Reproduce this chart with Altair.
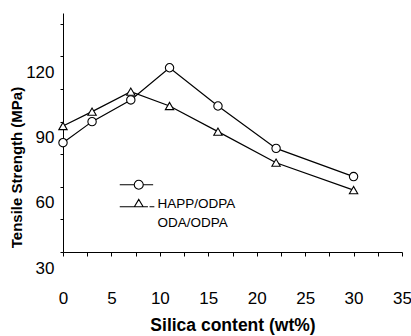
import altair as alt
import pandas as pd

# ---- data ----
silica = [0, 3, 7, 11, 16, 22, 30]
happ_odpa = [80.3, 90.0, 100.0, 114.8, 97.2, 77.7, 64.7]
oda_odpa = [88.0, 94.6, 103.8, 97.2, 85.4, 71.1, 58.5]
series_names = ["HAPP/ODPA", "ODA/ODPA"]
x_tick_values = [0, 2.5, 5, 7.5, 10, 12.5, 15, 17.5, 20, 22.5, 25, 27.5, 30, 32.5, 35]
y_tick_values = [30, 45, 60, 75, 90, 105, 120, 135]

rows = []
for name, vals in zip(series_names, [happ_odpa, oda_odpa]):
    for x, v in zip(silica, vals):
        rows.append({"silica": x, "strength": v, "series": name})
df = pd.DataFrame(rows)

FONT = "Liberation Sans"

x_enc = alt.X(
    "silica:Q",
    scale=alt.Scale(domain=[0, 35], nice=False, zero=False),
    axis=alt.Axis(
        values=x_tick_values,
        labelExpr="datum.value % 5 == 0 ? datum.label : ''",
        title="Silica content (wt%)",
        titleFont=FONT, titleFontSize=17.5, titleFontWeight="bold", titleColor="black",
        titlePadding=10,
        labelFont=FONT, labelFontSize=17, labelColor="black",
        labelPadding=34, tickSize=4, tickColor="black", domainColor="black",
        grid=False, labelFlush=False, labelOverlap=False,
    ),
)
y_enc = alt.Y(
    "strength:Q",
    scale=alt.Scale(domain=[30, 140], nice=False, zero=False),
    axis=alt.Axis(
        values=y_tick_values,
        labelExpr="datum.value % 30 == 0 ? datum.label : ''",
        title="Tensile Strength (MPa)",
        titleFont=FONT, titleFontSize=15, titleFontWeight="bold", titleColor="black",
        titlePadding=1, titleY=154,
        labelFont=FONT, labelFontSize=17, labelColor="black",
        labelPadding=6, labelOffset=16, tickSize=3, tickColor="black", domainColor="black",
        grid=False, labelFlush=False, labelOverlap=False,
    ),
)

base = alt.Chart(df)

lines = base.mark_line(color="black", strokeWidth=1.2).encode(
    x=x_enc, y=y_enc, detail="series:N"
)

points = base.mark_point(
    filled=True, fill="white", stroke="black", strokeWidth=1.1, size=70, opacity=1
).encode(
    x=x_enc,
    y=y_enc,
    shape=alt.Shape(
        "series:N",
        scale=alt.Scale(domain=series_names, range=["circle", "triangle-up"]),
        legend=None,
    ),
)

# legend symbols: marker with line tails (one continuous stroke around the top of the circle)
circ_path = ("M-4.75,0L-1.125,0A1.125,1.125,0,0,1,1.125,0L3.6,0"
             "M1.125,0A1.125,1.125,0,0,1,-1.125,0")
tri_path = ("M-4.75,0.75L-1.1,0.75L0,-1.1L1.1,0.75L2.3,0.75"
            "M-1.1,0.75L1.1,0.75M2.7,0.75L3.9,0.75")
legend_domain = series_names + [" "]
label_expr = (
    f"datum.label == '{series_names[0]}' ? ' ' : "
    f"datum.label == '{series_names[1]}' ? '{series_names[0]}' : '{series_names[1]}'"
)

legend_layer = base.transform_filter("false").mark_point(
    filled=False, color="black", strokeWidth=1.1, opacity=1
).encode(
    x=x_enc,
    y=y_enc,
    shape=alt.Shape(
        "series:N",
        scale=alt.Scale(domain=legend_domain, range=[circ_path, tri_path, "M0,0"]),
        legend=alt.Legend(
            title=None,
            orient="none",
            legendX=69,
            legendY=165,
            labelExpr=label_expr,
            labelFont=FONT,
            labelFontSize=13.5,
            labelColor="black",
            labelOffset=12,
            symbolSize=64,
            symbolStrokeColor="black",
            symbolStrokeWidth=1.1,
            symbolOpacity=1,
            rowPadding=4,
            padding=0,
        ),
    ),
)

chart = (
    alt.layer(lines, points, legend_layer)
    .resolve_scale(shape="independent")
    .properties(
        width=339,
        height=239,
        autosize=alt.AutoSizeParams(type="none"),
        padding={"left": 63, "top": 13, "right": 9, "bottom": 84},
        background="white",
    )
    .configure_view(stroke=None)
)

chart.save("out.html", embed_options={"renderer": "svg", "actions": False})
